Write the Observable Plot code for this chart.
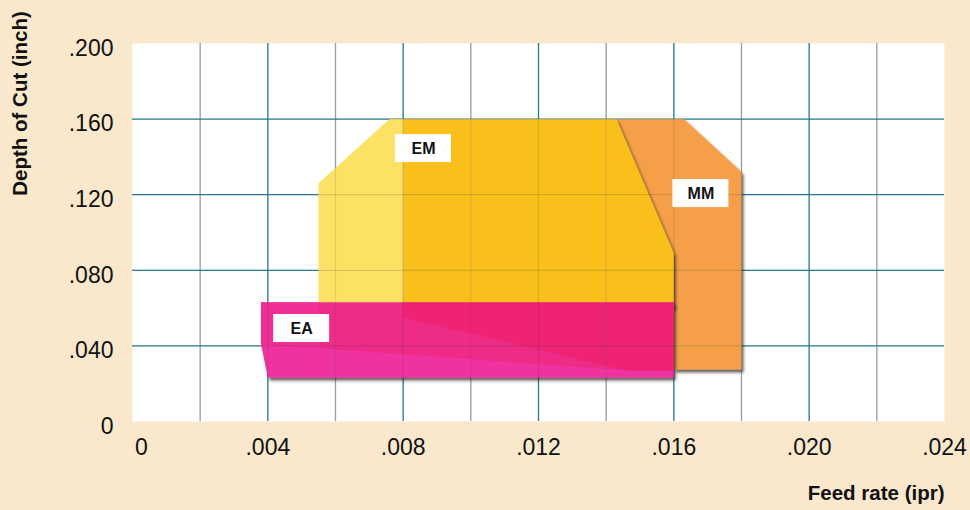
<!DOCTYPE html>
<html>
<head>
<meta charset="utf-8">
<script src="https://cdn.jsdelivr.net/npm/d3@7"></script>
<script src="https://cdn.jsdelivr.net/npm/@observablehq/plot@0.6"></script>
<style>
  html, body { margin: 0; padding: 0; background: #F9E8CC; }
  #chart { width: 970px; height: 510px; }
</style>
</head>
<body>
<div id="chart"></div>
<script>
// ---- tick values ----
const xTicks = [0, 0.004, 0.008, 0.012, 0.016, 0.020, 0.024];
const yTicks = [0, 0.04, 0.08, 0.12, 0.16, 0.20];
const gridMinorX = [0.002, 0.006, 0.010, 0.014, 0.018, 0.022];
const gridMajorX = [0.004, 0.008, 0.012, 0.016, 0.020];
const gridY = [0.04, 0.08, 0.12, 0.16];

// ---- regions (feed rate, depth of cut) ----
const mmX = [0.0143, 0.0163, 0.0180, 0.0180, 0.0160, 0.0160];
const mmY = [0.160, 0.160, 0.132, 0.0275, 0.0275, 0.089];

const emX = [0.0055, 0.0055, 0.0076, 0.0143, 0.0160, 0.0160];
const emY = [0.060, 0.126, 0.160, 0.160, 0.089, 0.060];

const emCoreX = [0.0080, 0.0080, 0.0143, 0.0160, 0.0160];
const emCoreY = [0.060, 0.160, 0.160, 0.089, 0.060];

const eaX = [0.0038, 0.0160, 0.0160, 0.0040, 0.0038];
const eaY = [0.063, 0.063, 0.0233, 0.0233, 0.041];

const eaMidX = [0.0038, 0.0160, 0.0160, 0.0146, 0.0038];
const eaMidY = [0.063, 0.063, 0.027, 0.027, 0.041];

const eaLeftX = [0.0038, 0.0055, 0.0055, 0.0038];
const eaLeftY = [0.063, 0.063, 0.0389, 0.041];

const eaDarkX = [0.0080, 0.0160, 0.0160, 0.0146, 0.0080];
const eaDarkY = [0.063, 0.063, 0.027, 0.027, 0.055];

// ---- region labels ----
const labelNames = ["EM", "MM", "EA"];
const labelX = [0.0086, 0.0168, 0.0050];
const labelY = [0.1444, 0.1206, 0.0492];

const poly = (xs, ys) => xs.map((x, i) => ({x, y: ys[i]}));
const labels = labelNames.map((name, i) => ({name, x: labelX[i], y: labelY[i]}));

const fmt = d => d === 0 ? "0" : d3.format(".3f")(d).replace(/^0/, "");

const TEAL = "#2b8a9f";
const GRAY = "#ababab";

const shape = (xs, ys, fill) =>
  Plot.line(poly(xs, ys), {x: "x", y: "y", fill, stroke: "none", curve: "linear"});

const chart = Plot.plot({
  width: 970,
  height: 510,
  marginLeft: 132,
  marginRight: 26,
  marginTop: 43,
  marginBottom: 89,
  style: {background: "#F9E8CC", fontFamily: "'Liberation Sans', Arial, Helvetica, sans-serif", color: "#111"},
  x: {domain: [0, 0.024]},
  y: {domain: [0, 0.2]},
  marks: [
    Plot.frame({fill: "white", stroke: "none"}),
    Plot.ruleX(gridMinorX, {stroke: GRAY, strokeWidth: 1.3}),
    Plot.ruleX(gridMajorX, {stroke: TEAL, strokeWidth: 1.3}),
    Plot.ruleY(gridY, {stroke: TEAL, strokeWidth: 1.3}),

    shape(mmX, mmY, "#f5a04a"),
    shape(emX, emY, "#fce264"),
    shape(emCoreX, emCoreY, "#f9c01f"),
    shape(eaX, eaY, "#f030a0"),
    shape(eaMidX, eaMidY, "#ee2b87"),
    shape(eaLeftX, eaLeftY, "#ef2e96"),
    shape(eaDarkX, eaDarkY, "#ee2374"),

    // grid showing faintly through the regions
    Plot.ruleX(gridMinorX, {stroke: "#555", strokeWidth: 1.2, strokeOpacity: 0.16}),
    Plot.ruleX(gridMajorX, {stroke: "#333", strokeWidth: 1.2, strokeOpacity: 0.16}),
    Plot.ruleY(gridY, {stroke: "#333", strokeWidth: 1.2, strokeOpacity: 0.16}),

    // label boxes
    Plot.rect(labels, {x1: "x", x2: "x", y1: "y", y2: "y", fill: "white",
      insetLeft: -28, insetRight: -28, insetTop: -14, insetBottom: -14}),
    Plot.text(labels, {x: "x", y: "y", text: "name", fontSize: 16, fontWeight: "bold", fill: "#111"}),

    // axes
    Plot.axisY(yTicks, {tickSize: 0, tickPadding: 19, fontSize: 23, tickFormat: fmt, dy: 5, label: null}),
    Plot.axisX(xTicks.filter(d => d !== 0), {tickSize: 0, tickPadding: 17, fontSize: 23, tickFormat: fmt, label: null}),
    Plot.axisX([0], {tickSize: 0, tickPadding: 17, fontSize: 23, tickFormat: fmt, dx: 9, label: null}),

    // axis titles
    Plot.text(["Depth of Cut (inch)"], {frameAnchor: "top-left", rotate: -90, dx: -112, dy: 60,
      textAnchor: "middle", lineAnchor: "middle",
      fontSize: 20.5, fontWeight: "bold", fill: "#111"}),
    Plot.text(["Feed rate (ipr)"], {frameAnchor: "bottom-right", textAnchor: "end", lineAnchor: "middle", dy: 72,
      fontSize: 20.5, fontWeight: "bold", fill: "#111"})
  ]
});

// drop shadows on the regions
const ns = "http://www.w3.org/2000/svg";
const defs = document.createElementNS(ns, "defs");
defs.innerHTML = `<filter id="ds" x="-10%" y="-10%" width="130%" height="140%">
  <feDropShadow dx="2" dy="3" stdDeviation="1.6" flood-color="#2a1a1a" flood-opacity="0.7"/>
</filter>`;
chart.insertBefore(defs, chart.firstChild);
for (const c of ["#f5a04a", "#f9c01f", "#f030a0"]) {
  chart.querySelectorAll(`g[fill="${c}"]`).forEach(g => g.setAttribute("filter", "url(#ds)"));
}

document.getElementById("chart").appendChild(chart);
</script>
</body>
</html>
